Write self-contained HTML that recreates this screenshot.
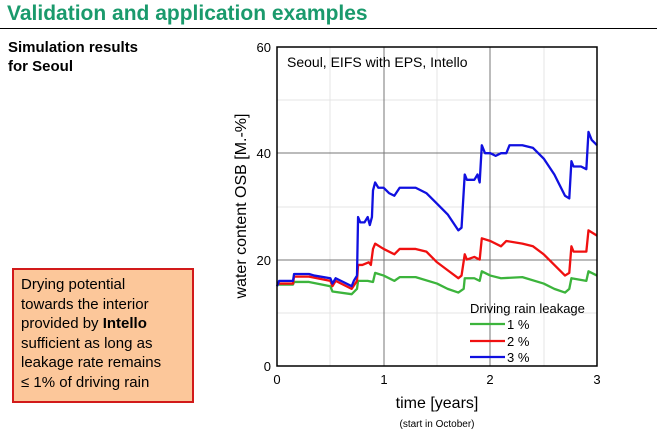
<!DOCTYPE html>
<html><head><style>
body{margin:0;width:657px;height:438px;background:#fff;font-family:"Liberation Sans",Arial,sans-serif;position:relative;overflow:hidden}
.t{position:absolute;white-space:nowrap}
</style></head><body>
<div class="t" style="left:7px;top:2px;font-size:21px;font-weight:bold;color:#1a9a6c">Validation and application examples</div>
<div style="position:absolute;left:0;top:28px;width:657px;height:1px;background:#000"></div>
<div class="t" style="left:8px;top:38px;font-size:15px;font-weight:bold;line-height:19px">Simulation results<br>for Seoul</div>
<div style="position:absolute;left:12px;top:268px;width:178px;height:131px;background:#fcc79a;border:2px solid #d21a1a"></div>
<div class="t" style="left:21px;top:275px;font-size:15px;line-height:19.5px">Drying potential<br>towards the interior<br>provided by <b>Intello</b><br>sufficient as long as<br>leakage rate remains<br>≤ 1% of driving rain</div>
<svg width="657" height="438" style="position:absolute;left:0;top:0" font-family="Liberation Sans,Arial,sans-serif">
<g stroke="#e4e4e4" stroke-width="1">
<line x1="330" y1="47" x2="330" y2="366"/><line x1="437" y1="47" x2="437" y2="366"/><line x1="544" y1="47" x2="544" y2="366"/>
<line x1="277" y1="313" x2="597" y2="313"/><line x1="277" y1="207" x2="597" y2="207"/><line x1="277" y1="100" x2="597" y2="100"/>
</g>
<g stroke="#777" stroke-width="1">
<line x1="384" y1="47" x2="384" y2="366"/><line x1="490" y1="47" x2="490" y2="366"/>
<line x1="277" y1="260" x2="597" y2="260"/><line x1="277" y1="153" x2="597" y2="153"/>
</g>
<g transform="translate(277,366) scale(106.67,-5.32)" fill="none" stroke-width="2.3" stroke-linejoin="round">
<polyline vector-effect="non-scaling-stroke" stroke="#3cb43c" points="0,15.3 0.15,15.3 0.16,15.8 0.3,15.8 0.5,15 0.52,14 0.7,13.5 0.75,14.5 0.76,16 0.85,16 0.9,15.8 0.92,17.5 1,17 1.1,16 1.15,16.7 1.3,16.7 1.5,15.5 1.6,14.5 1.7,13.8 1.75,14.5 1.76,16.5 1.85,16.5 1.9,16 1.92,17.8 2,17 2.1,16.5 2.3,16.7 2.5,15.5 2.6,14.5 2.7,13.8 2.74,14.5 2.76,16.5 2.9,16 2.92,17.8 3,17"/>
<polyline vector-effect="non-scaling-stroke" stroke="#f01010" points="0,15.5 0.15,15.5 0.16,16.8 0.3,16.8 0.5,16 0.52,15 0.55,16 0.7,14.5 0.75,16 0.76,19 0.8,19 0.86,19.5 0.88,19 0.9,22 0.92,23 1,22 1.1,21 1.15,22 1.3,22 1.4,21.5 1.5,19.5 1.6,18 1.7,16.5 1.73,17 1.76,21 1.78,20 1.85,20.5 1.9,20 1.92,24 2,23.5 2.1,22.5 2.15,23.5 2.3,23 2.4,22.5 2.5,21 2.6,19 2.7,17 2.74,17.5 2.76,22.5 2.78,21.5 2.9,21.5 2.92,25.5 3,24.5"/>
<polyline vector-effect="non-scaling-stroke" stroke="#1010e0" points="0,15 0.02,16 0.15,16 0.16,17.3 0.3,17.3 0.35,17 0.5,16.5 0.52,15.5 0.55,16.5 0.6,16 0.7,15 0.72,16 0.75,17 0.76,28 0.78,27 0.82,27 0.85,28 0.87,26.5 0.89,28 0.9,33 0.92,34.5 0.95,33.5 1,33.5 1.05,32.5 1.1,32 1.15,33.5 1.3,33.5 1.4,32.5 1.5,30.5 1.55,29.5 1.6,28.5 1.65,27 1.7,25.5 1.73,26 1.76,36 1.78,35 1.85,35 1.88,36 1.9,34.5 1.92,41.5 1.95,40 2,40 2.05,39.5 2.1,40 2.15,40 2.18,41.5 2.3,41.5 2.4,41 2.5,39 2.6,36 2.65,34 2.7,32 2.74,31.5 2.76,38.5 2.78,37.5 2.85,37.5 2.9,37 2.92,44 2.95,42.5 3,41.5"/>
</g>
<rect x="277" y="47" width="320" height="319" fill="none" stroke="#000" stroke-width="1.5"/>
<text x="287" y="67" font-size="14">Seoul, EIFS with EPS, Intello</text>
<g font-size="13" text-anchor="end"><text x="271" y="52">60</text><text x="271" y="158">40</text><text x="271" y="265">20</text><text x="271" y="371">0</text></g>
<g font-size="13" text-anchor="middle"><text x="277" y="384">0</text><text x="384" y="384">1</text><text x="490" y="384">2</text><text x="597" y="384">3</text></g>
<text x="437" y="408" font-size="16" text-anchor="middle">time [years]</text>
<text x="437" y="427" font-size="10" text-anchor="middle">(start in October)</text>
<text transform="translate(246,206) rotate(-90)" font-size="16" text-anchor="middle">water content OSB [M.-%]</text>
<text x="470" y="313" font-size="13">Driving rain leakage</text>
<line x1="470" y1="324" x2="505" y2="324" stroke="#3cb43c" stroke-width="2.3"/><text x="507" y="329" font-size="13">1 %</text>
<line x1="470" y1="341" x2="505" y2="341" stroke="#f01010" stroke-width="2.3"/><text x="507" y="346" font-size="13">2 %</text>
<line x1="470" y1="357" x2="505" y2="357" stroke="#1010e0" stroke-width="2.3"/><text x="507" y="362" font-size="13">3 %</text>
</svg>
</body></html>
